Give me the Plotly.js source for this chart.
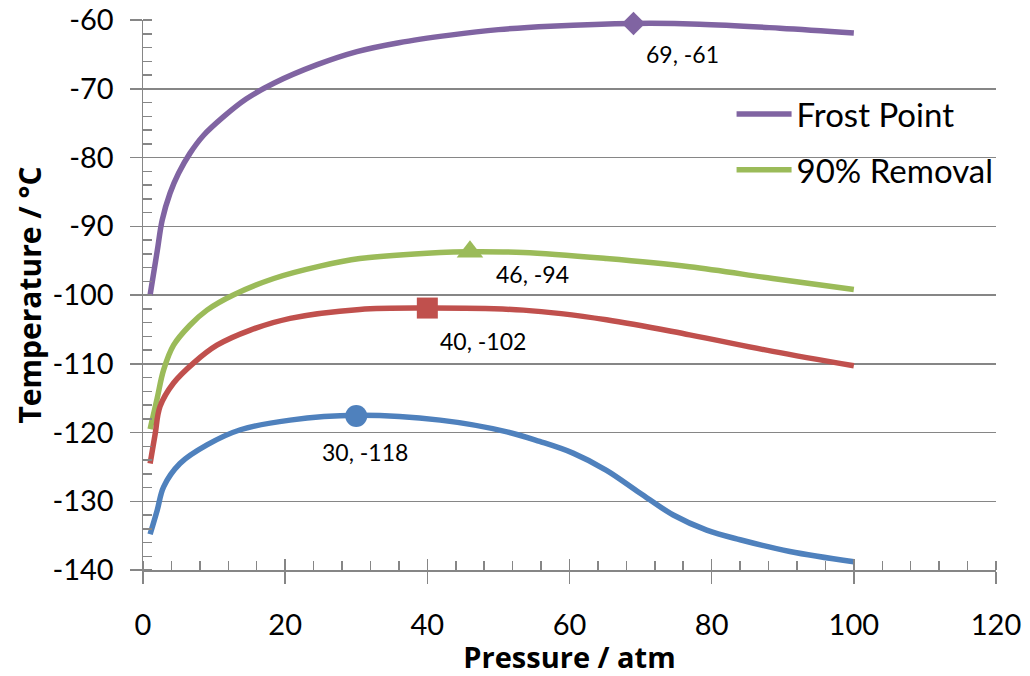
<!DOCTYPE html>
<html>
<head>
<meta charset="utf-8">
<script src="https://cdn.plot.ly/plotly-3.0.1.min.js"></script>
<style>html,body{margin:0;padding:0;background:#fff;}#chart{width:1030px;height:676px;}</style>
</head>
<body>
<div id="chart"></div>
<script>
// Frost Point (purple)
const frostP = [1, 2.0, 2.7, 3.8, 5.0, 6.6, 8.5, 11.3, 14.5, 18.4, 24.5, 30.1, 36, 43.2, 50, 57.3, 69, 78.3, 89.6, 100];
const frostT = [-100, -93.6, -89.1, -85.2, -82.3, -79.4, -76.8, -74.1, -71.5, -69.2, -66.5, -64.6, -63.3, -62.2, -61.4, -60.9, -60.5, -60.6, -61.2, -61.9];
// 90% Removal (green)
const greenP = [1, 2.0, 2.9, 4.3, 6.6, 9.0, 12.7, 18.4, 24.9, 30.5, 41.8, 46, 53.5, 65.2, 76.9, 88.6, 100];
const greenT = [-119.5, -115.0, -110.9, -107.3, -104.4, -102.2, -100.0, -97.6, -95.8, -94.7, -93.8, -93.7, -93.8, -94.7, -95.9, -97.6, -99.2];
// red series
const redP = [1, 1.7, 2.4, 4.3, 7.1, 10.4, 15.1, 20.7, 30.5, 40, 53.5, 65.2, 76.9, 88.6, 100];
const redT = [-124.5, -120.3, -116.2, -112.8, -109.9, -107.3, -105.1, -103.4, -102.1, -101.9, -102.2, -103.6, -105.8, -108.2, -110.3];
// blue series
const blueP = [1, 2.0, 2.9, 5.2, 9.0, 13.7, 20.7, 30, 41.8, 51.2, 55.8, 60.5, 65.2, 69.9, 74.6, 79.3, 84.0, 91.0, 100];
const blueT = [-134.8, -131.3, -127.9, -124.5, -121.8, -119.6, -118.2, -117.5, -118.2, -119.9, -121.3, -123.0, -125.5, -128.8, -132.0, -134.2, -135.6, -137.3, -138.8];
// peak markers and labels
const peakP = [69, 46, 40, 30];
const peakT = [-60.5, -93.7, -101.9, -117.6];
const peakLabels = ["69, -61", "46, -94", "40, -102", "30, -118"];

const xTicks = [0, 20, 40, 60, 80, 100, 120];
const yTicks = [-140, -130, -120, -110, -100, -90, -80, -70, -60];

const FONT = 'Lato, "Open Sans", sans-serif';
const TFONT = '"Open Sans", Lato, sans-serif';
const C_PURPLE = '#8064A2', C_GREEN = '#9BBB59', C_RED = '#C0504D', C_BLUE = '#4F81BD';
const AXC = '#868686';

const lineStyle = c => ({color: c, width: 5.5, shape: 'spline', smoothing: 1});

const traces = [
  {x: frostP, y: frostT, mode: 'lines', name: 'Frost Point', line: lineStyle(C_PURPLE), legendgroup: 'a'},
  {x: greenP, y: greenT, mode: 'lines', name: '90% Removal', line: lineStyle(C_GREEN), legendgroup: 'b'},
  {x: redP, y: redT, mode: 'lines', name: 'red', line: lineStyle(C_RED), showlegend: false},
  {x: blueP, y: blueT, mode: 'lines', name: 'blue', line: lineStyle(C_BLUE), showlegend: false},
  {x: peakP, y: peakT, mode: 'markers', showlegend: false, cliponaxis: false,
   marker: {symbol: ['diamond', 'triangle-up', 'square', 'circle'],
            color: [C_PURPLE, C_GREEN, C_RED, C_BLUE], opacity: 1,
            size: [18, 23, 21, 22], line: {width: 0}}},
  {x: [0], y: [-140], xaxis: 'x2', mode: 'markers', marker: {opacity: 0}, showlegend: false, hoverinfo: 'skip'}
];

const offsets = [[49, -31], [63, -22], [56, -33], [9, -36]];
const annotations = peakP.map((p, i) => ({
  x: p, y: peakT[i], text: peakLabels[i], showarrow: false,
  xanchor: 'center', yanchor: 'middle',
  xshift: offsets[i][0], yshift: offsets[i][1],
  font: {family: FONT, size: 23, color: '#000'}
}));

const layout = {
  width: 1030, height: 676,
  margin: {l: 143, r: 34, t: 20, b: 106, pad: 0},
  paper_bgcolor: '#fff', plot_bgcolor: '#fff',
  font: {family: FONT, color: '#000'},
  showlegend: true,
  legend: {x: 0.69, y: 0.88, xanchor: 'left', yanchor: 'top', bgcolor: 'rgba(0,0,0,0)',
           font: {family: FONT, size: 33, color: '#000'}, tracegroupgap: 10, itemwidth: 55, traceorder: 'grouped'},
  xaxis: {
    range: [0, 120], tickmode: 'array', tickvals: xTicks, ticktext: xTicks.map(String),
    ticks: 'outside', ticklen: 12, tickwidth: 1.5, tickcolor: AXC,
    showline: true, linecolor: AXC, linewidth: 1.5, showgrid: false, zeroline: false,
    tickfont: {family: FONT, size: 29, color: '#000'}, ticklabelstandoff: 17,
    minor: {dtick: 4, tick0: 0, ticks: 'inside', ticklen: 9, tickwidth: 1.5, tickcolor: AXC, showgrid: false},
    title: {text: '<b>Pressure / atm</b>', font: {family: TFONT, size: 29, color: '#000'}, standoff: 12}
  },
  xaxis2: {
    overlaying: 'x', anchor: 'y', side: 'bottom', range: [0, 120], tickmode: 'array', tickvals: xTicks,
    ticks: 'inside', ticklen: 11, tickwidth: 1.5, tickcolor: AXC,
    showticklabels: false, showgrid: false, showline: false, zeroline: false
  },
  yaxis: {
    range: [-140, -60], tickmode: 'array', tickvals: yTicks, ticktext: yTicks.map(String),
    ticks: 'outside', ticklen: 12, tickwidth: 1.5, tickcolor: AXC,
    showline: true, linecolor: AXC, linewidth: 1.5,
    showgrid: true, gridcolor: AXC, gridwidth: 1.5, zeroline: false,
    tickfont: {family: FONT, size: 29, color: '#000'}, ticklabelstandoff: 10,
    minor: {dtick: 2, tick0: -140, ticks: 'inside', ticklen: 9, tickwidth: 1.5, tickcolor: AXC, showgrid: false},
    title: {text: '<b>Temperature / °C</b>', font: {family: TFONT, size: 30, color: '#000'}, standoff: 2}
  },
  annotations: annotations
};

Plotly.newPlot('chart', traces, layout, {displayModeBar: false, staticPlot: true});
</script>
</body>
</html>
